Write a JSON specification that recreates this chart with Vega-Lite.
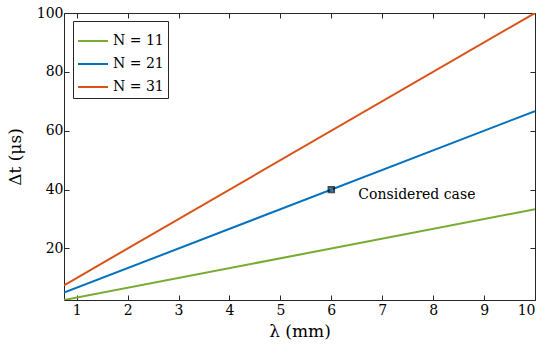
{
  "$schema": "https://vega.github.io/schema/vega-lite/v6.json",
  "width": 471,
  "height": 287,
  "autosize": {"type": "none"},
  "padding": {"left": 64, "top": 13, "right": 15, "bottom": 55},
  "background": "white",
  "config": {
    "font": "DejaVu Serif",
    "view": {"stroke": "#262626", "strokeWidth": 1},
    "axis": {
      "domain": false,
      "grid": false,
      "tickColor": "#262626",
      "tickSize": -5,
      "tickWidth": 1,
      "labelFont": "DejaVu Serif",
      "labelFontSize": 14,
      "labelColor": "#000",
      "titleFont": "DejaVu Serif",
      "titleFontSize": 17,
      "titleFontWeight": "normal",
      "titleColor": "#000"
    },
    "legend": {"labelFont": "DejaVu Serif"},
    "text": {"font": "DejaVu Serif"}
  },
  "datasets": {
    "lines": [
      {"lambda": 0.75, "dt": 2.5, "N": "N = 11"},
      {"lambda": 10, "dt": 33.33, "N": "N = 11"},
      {"lambda": 0.75, "dt": 5.0, "N": "N = 21"},
      {"lambda": 10, "dt": 66.67, "N": "N = 21"},
      {"lambda": 0.75, "dt": 7.5, "N": "N = 31"},
      {"lambda": 10, "dt": 100, "N": "N = 31"}
    ],
    "point": [{"lambda": 6, "dt": 40, "label": "Considered case"}]
  },
  "resolve": {"axis": {"x": "independent", "y": "independent"}},
  "layer": [
    {
      "data": {"name": "lines"},
      "mark": {"type": "line", "strokeWidth": 2, "clip": true},
      "encoding": {
        "x": {
          "field": "lambda", "type": "quantitative",
          "scale": {"domain": [0.75, 10], "nice": false, "zero": false},
          "axis": {"values": [1,2,3,4,5,6,7,8,9,10], "title": "λ (mm)", "labelPadding": 8, "titlePadding": 6}
        },
        "y": {
          "field": "dt", "type": "quantitative",
          "scale": {"domain": [2.5, 100], "nice": false, "zero": false},
          "axis": {"values": [20,40,60,80,100], "title": "Δt (μs)", "labelPadding": 6, "titlePadding": 12}
        },
        "color": {
          "field": "N", "type": "nominal",
          "scale": {"domain": ["N = 11", "N = 21", "N = 31"], "range": ["#77AC30", "#0072BD", "#D95319"]},
          "legend": {
            "title": null,
            "orient": "none",
            "legendX": 9,
            "legendY": 8,
            "symbolType": "stroke",
            "symbolSize": 900,
            "symbolStrokeWidth": 2,
            "labelFont": "DejaVu Serif",
            "labelFontSize": 14,
            "labelColor": "#000",
            "labelOffset": 4,
            "strokeColor": "#262626",
            "fillColor": "white",
            "padding": 4,
            "rowPadding": 0
          }
        }
      }
    },
    {
      "data": {"name": "point"},
      "mark": {"type": "square", "size": 30, "filled": false, "stroke": "#000", "strokeWidth": 2, "fill": "#0072BD"},
      "encoding": {
        "x": {"field": "lambda", "type": "quantitative", "axis": {"orient": "top", "values": [1,2,3,4,5,6,7,8,9,10], "labels": false, "title": null}},
        "y": {"field": "dt", "type": "quantitative", "axis": {"orient": "right", "values": [20,40,60,80,100], "labels": false, "title": null}}
      }
    },
    {
      "data": {"name": "point"},
      "mark": {"type": "text", "align": "left", "baseline": "middle", "dx": 27, "dy": 5, "fontSize": 14, "font": "DejaVu Serif", "color": "#000"},
      "encoding": {
        "x": {"field": "lambda", "type": "quantitative", "axis": null},
        "y": {"field": "dt", "type": "quantitative", "axis": null},
        "text": {"field": "label"}
      }
    }
  ]
}
